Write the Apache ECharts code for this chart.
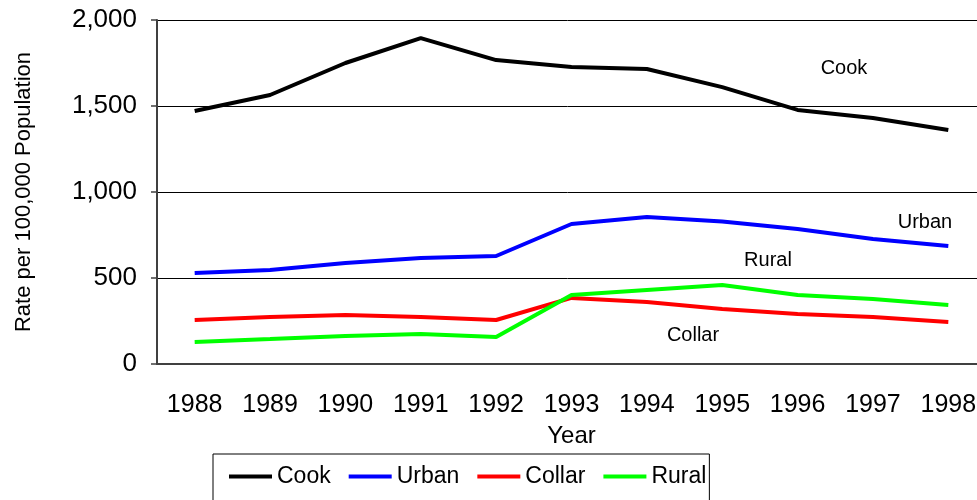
<!DOCTYPE html>
<html>
<head>
<meta charset="utf-8">
<script src="https://cdn.jsdelivr.net/npm/echarts@6/dist/echarts.min.js"></script>
<style>
  html, body { margin: 0; padding: 0; background: #fff; }
  #chart { width: 977px; height: 500px; }
</style>
</head>
<body>
<div id="chart"></div>
<script>
var years = ['1988', '1989', '1990', '1991', '1992', '1993', '1994', '1995', '1996', '1997', '1998']
var cook = [1471, 1564, 1750, 1895, 1767, 1727, 1715, 1610, 1477, 1430, 1360]
var urban = [529, 547, 587, 616, 628, 814, 855, 828, 785, 727, 686]
var collar = [256, 273, 285, 273, 256, 384, 360, 320, 291, 273, 244]
var rural = [128, 145, 163, 174, 157, 401, 430, 459, 401, 378, 343]

var font = '"Liberation Sans", Arial, sans-serif'
var chart = echarts.init(document.getElementById('chart'))

function line(name, data, color) {
  return {
    name: name,
    type: 'line',
    data: data,
    symbol: 'none',
    color: color,
    lineStyle: { width: 4, color: color },
    animation: false,
  }
}

// labels drawn next to each line in the original
var notes = [
  { text: 'Cook', x: 844, y: 68 },
  { text: 'Urban', x: 925, y: 222 },
  { text: 'Rural', x: 768, y: 260 },
  { text: 'Collar', x: 693, y: 335 },
]

chart.setOption({
  backgroundColor: '#fff',
  animation: false,
  grid: { left: 157, right: -9, top: 20, bottom: 136, outerBoundsMode: 'none', containLabel: false },
  legend: {
    data: ['Cook', 'Urban', 'Collar', 'Rural'],
    left: 213,
    top: 454,
    icon: 'rect',
    itemWidth: 43,
    itemHeight: 4,
    itemGap: 18,
    padding: [11, 3, 14, 16],
    borderColor: '#000',
    borderWidth: 1,
    textStyle: { fontSize: 23, color: '#000', fontFamily: font },
  },
  xAxis: {
    type: 'category',
    data: years,
    boundaryGap: true,
    name: 'Year',
    nameLocation: 'middle',
    nameGap: 60,
    nameTextStyle: { fontSize: 24, color: '#000', fontFamily: font },
    axisLine: { lineStyle: { color: '#404040', width: 2 } },
    axisTick: { length: 8, lineStyle: { color: '#404040', width: 1.5 } },
    axisLabel: { fontSize: 25, color: '#000', margin: 29, fontFamily: font },
  },
  yAxis: {
    type: 'value',
    min: 0,
    max: 2000,
    interval: 500,
    name: 'Rate per 100,000 Population',
    nameLocation: 'middle',
    nameGap: 122,
    nameTextStyle: { fontSize: 22, color: '#000', fontFamily: font },
    axisLine: { show: true, lineStyle: { color: '#404040', width: 2 } },
    axisTick: { show: true, length: 6, lineStyle: { color: '#404040', width: 1.5 } },
    axisLabel: {
      fontSize: 26,
      color: '#000',
      margin: 20,
      fontFamily: font,
      formatter: function (v) { return v.toLocaleString('en-US') },
    },
    splitLine: { show: true, lineStyle: { color: '#000', width: 1 } },
  },
  graphic: notes.map(function (n) {
    return {
      type: 'text',
      x: n.x,
      y: n.y,
      style: {
        text: n.text,
        fill: '#000',
        font: '20px ' + font,
        textAlign: 'center',
        textVerticalAlign: 'middle',
      },
    }
  }),
  series: [
    line('Cook', cook, '#000000'),
    line('Urban', urban, '#0000ff'),
    line('Collar', collar, '#ff0000'),
    line('Rural', rural, '#00ff00'),
  ],
})
</script>
</body>
</html>
